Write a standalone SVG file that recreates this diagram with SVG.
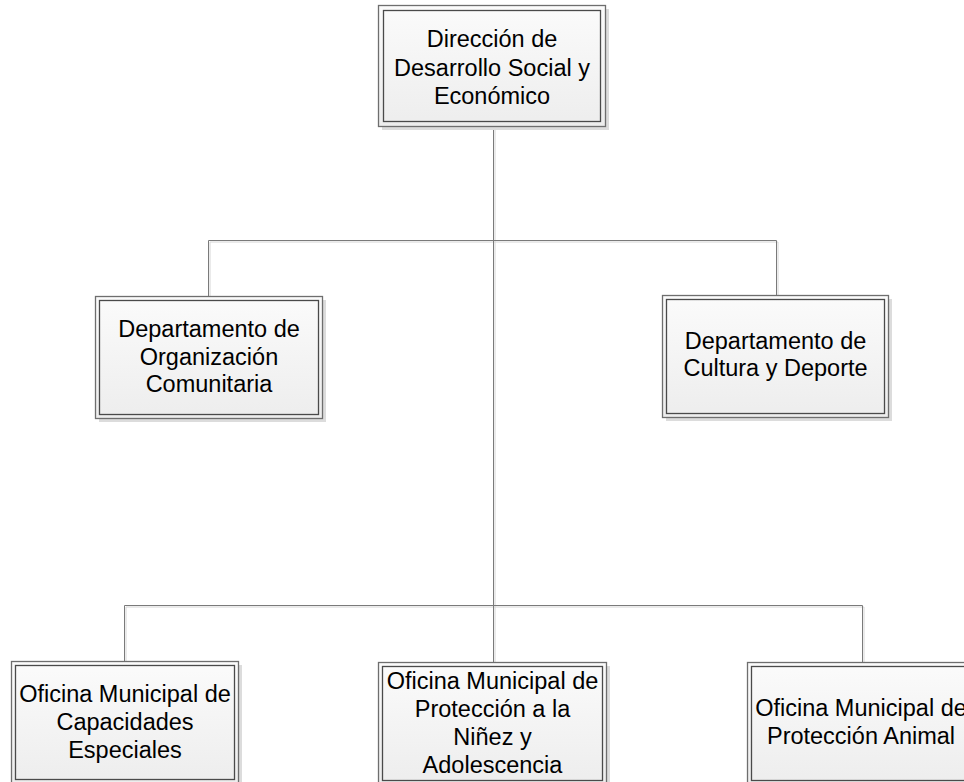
<svg xmlns="http://www.w3.org/2000/svg" width="964" height="782" viewBox="0 0 964 782">
<defs>
<linearGradient id="fillg" x1="0" y1="0" x2="0" y2="1">
<stop offset="0" stop-color="#fbfbfb"/>
<stop offset="1" stop-color="#ededed"/>
</linearGradient>
</defs>
<style>
.shadow{fill:#dcdcdc;stroke:none}
.outer{fill:url(#fillg);stroke:#6e6e6e;stroke-width:1.3}
.inner{fill:none;stroke:#4a4a4a;stroke-width:1.3}
.lbl{font-family:"Liberation Sans",Arial,sans-serif;font-size:23.5px;fill:#000;text-anchor:middle}
.conn{fill:none;stroke:#7a7a7a;stroke-width:1}
.connsh{fill:none;stroke:#d6d6d6;stroke-width:1}
</style>
<rect width="964" height="782" fill="#ffffff"/>
<g id="connectors">
<g transform="translate(1.5,1.5)">
<path class="connsh" d="M493.5 126 V662 M208.5 240.5 H776.5 M208.5 240.5 V296 M776.5 240.5 V295 M124.5 605.5 H862.5 M124.5 605.5 V661 M862.5 605.5 V662"/>
</g>
<path class="conn" d="M493.5 126 V662 M208.5 240.5 H776.5 M208.5 240.5 V296 M776.5 240.5 V295 M124.5 605.5 H862.5 M124.5 605.5 V661 M862.5 605.5 V662"/>
</g>
<g id="n_direccion">
<rect class="shadow" x="382" y="9" width="227" height="121"/>
<rect class="outer" x="378.5" y="5.5" width="227" height="121"/>
<rect class="inner" x="383.5" y="10.5" width="217" height="111"/>
<text class="lbl"><tspan x="492" y="47">Dirección de</tspan><tspan x="492" y="75.5">Desarrollo Social y</tspan><tspan x="492" y="103.5">Económico</tspan></text>
</g>
<g id="n_organizacion">
<rect class="shadow" x="99" y="300" width="227" height="122"/>
<rect class="outer" x="95.5" y="296.5" width="227" height="122"/>
<rect class="inner" x="99.5" y="300.5" width="219" height="114"/>
<text class="lbl"><tspan x="209" y="337">Departamento de</tspan><tspan x="209" y="365">Organización</tspan><tspan x="209" y="392">Comunitaria</tspan></text>
</g>
<g id="n_cultura">
<rect class="shadow" x="666" y="299" width="226" height="122"/>
<rect class="outer" x="662.5" y="295.5" width="226" height="122"/>
<rect class="inner" x="666.5" y="299.5" width="218" height="114"/>
<text class="lbl"><tspan x="775.5" y="349">Departamento de</tspan><tspan x="775.5" y="376">Cultura y Deporte</tspan></text>
</g>
<g id="n_capacidades">
<rect class="shadow" x="15" y="665" width="227" height="122"/>
<rect class="outer" x="11.5" y="661.5" width="227" height="122"/>
<rect class="inner" x="15.5" y="665.5" width="219" height="114"/>
<text class="lbl"><tspan x="125" y="702">Oficina Municipal de</tspan><tspan x="125" y="730">Capacidades</tspan><tspan x="125" y="758">Especiales</tspan></text>
</g>
<g id="n_ninez">
<rect class="shadow" x="382" y="666" width="228" height="122"/>
<rect class="outer" x="378.5" y="662.5" width="228" height="122"/>
<rect class="inner" x="382.5" y="666.5" width="220" height="114"/>
<text class="lbl"><tspan x="492.5" y="689">Oficina Municipal de</tspan><tspan x="492.5" y="717">Protección a la</tspan><tspan x="492.5" y="745">Niñez y</tspan><tspan x="492.5" y="773">Adolescencia</tspan></text>
</g>
<g id="n_animal">
<rect class="shadow" x="751" y="666" width="229" height="122"/>
<rect class="outer" x="747.5" y="662.5" width="229" height="122"/>
<rect class="inner" x="751.5" y="666.5" width="221" height="114"/>
<text class="lbl"><tspan x="861" y="716">Oficina Municipal de</tspan><tspan x="861" y="744">Protección Animal</tspan></text>
</g>
</svg>
